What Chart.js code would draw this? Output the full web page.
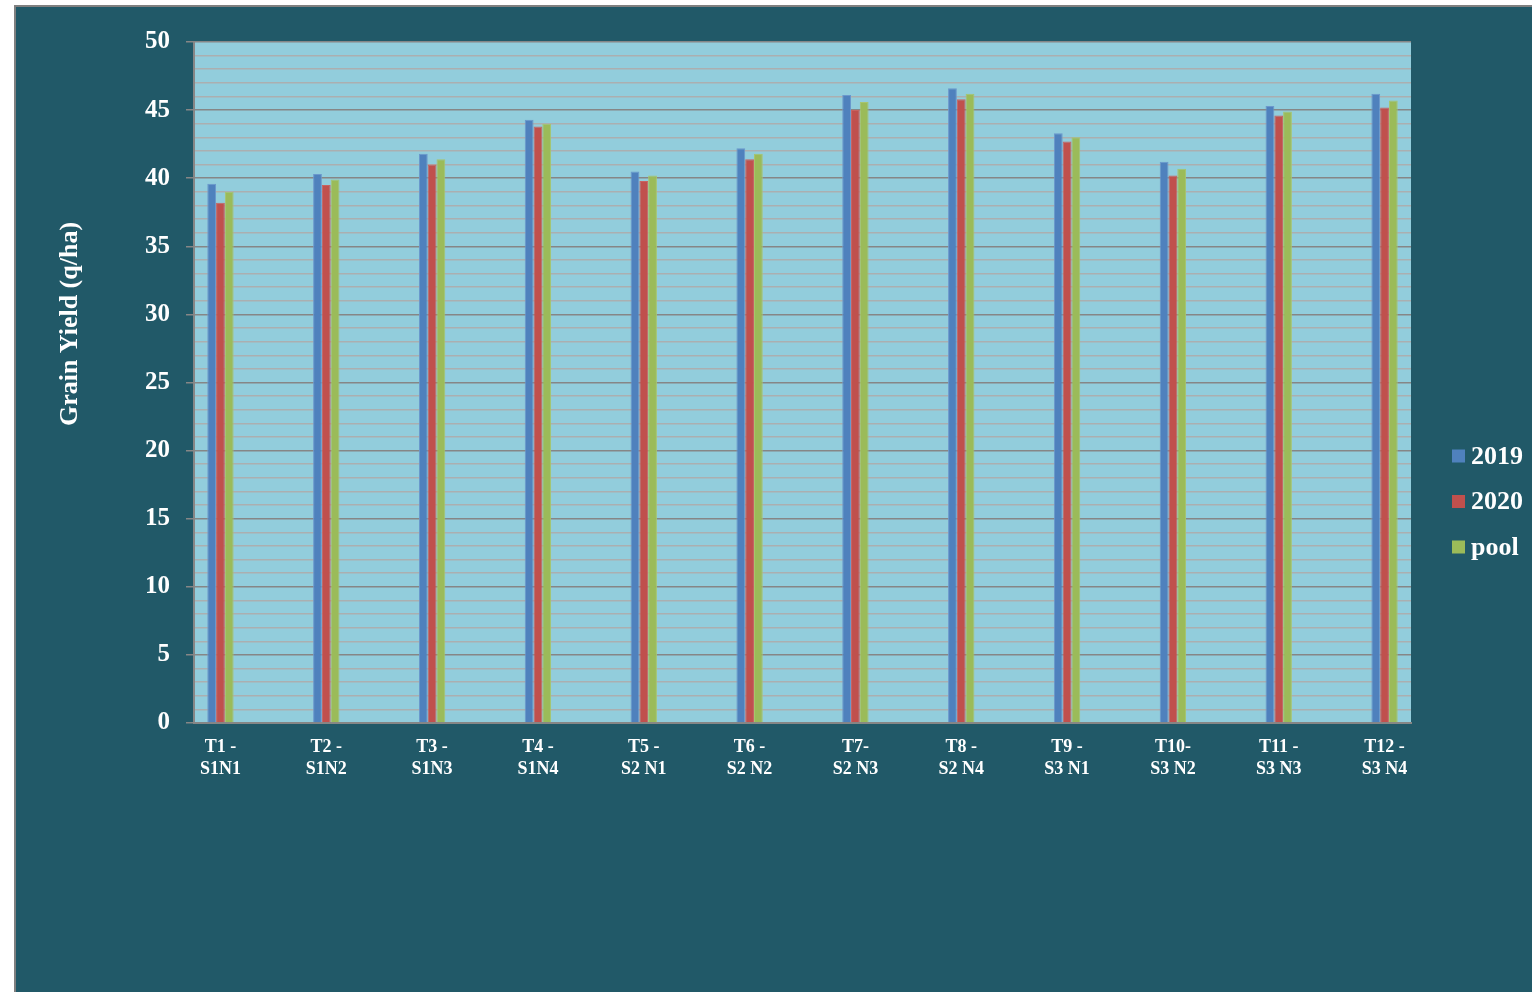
<!DOCTYPE html>
<html>
<head>
<meta charset="utf-8">
<script src="https://cdn.jsdelivr.net/npm/chart.js@4/dist/chart.umd.min.js"></script>
<style>
  html, body { margin: 0; padding: 0; background: #ffffff; overflow: hidden; }
  #frame {
    position: absolute; left: 14px; top: 5px; right: 0; bottom: 0;
    border-left: 2px solid #808080; border-top: 2px solid #808080;
    background: #215968;
  }
  #chart { display: block; }
</style>
</head>
<body>
<div id="frame"><canvas id="chart" width="1516" height="985"></canvas></div>
<script>
// Treatments (two-line tick labels)
const treatments = [
  ['T1 -', 'S1N1'], ['T2 -', 'S1N2'], ['T3 -', 'S1N3'], ['T4 -', 'S1N4'],
  ['T5 -', 'S2 N1'], ['T6 -', 'S2 N2'], ['T7-', 'S2 N3'], ['T8 -', 'S2 N4'],
  ['T9 -', 'S3 N1'], ['T10-', 'S3 N2'], ['T11 -', 'S3 N3'], ['T12 -', 'S3 N4']
];

// Grain yield (q/ha) per season and pooled
const yield2019 = [39.6, 40.3, 41.8, 44.3, 40.5, 42.2, 46.1, 46.6, 43.3, 41.2, 45.3, 46.2];
const yield2020 = [38.2, 39.5, 41.0, 43.8, 39.8, 41.4, 45.0, 45.8, 42.7, 40.2, 44.6, 45.2];
const yieldPool = [39.0, 39.9, 41.4, 44.0, 40.2, 41.8, 45.6, 46.2, 43.0, 40.7, 44.9, 45.7];

const seriesNames = ['2019', '2020', 'pool'];
const yAxisTitle = 'Grain Yield (q/ha)';

const SERIF = "'Liberation Serif', 'Times New Roman', serif";
const toPoints = arr => arr.map((v, i) => ({ x: i, y: v }));

// Plot area fill
const plotBackground = {
  id: 'plotBackground',
  beforeDraw(chart) {
    const { ctx, chartArea: a } = chart;
    ctx.save();
    ctx.fillStyle = '#92cddc';
    ctx.fillRect(a.left, a.top, a.right - a.left, a.bottom - a.top);
    ctx.restore();
  }
};

// Rotated y-axis title
const yTitle = {
  id: 'yTitle',
  afterDraw(chart) {
    const { ctx } = chart;
    ctx.save();
    ctx.translate(54, 317);
    ctx.rotate(-Math.PI / 2);
    ctx.font = 'bold 26px ' + SERIF;
    ctx.fillStyle = '#ffffff';
    ctx.textAlign = 'center';
    ctx.textBaseline = 'middle';
    ctx.fillText(yAxisTitle, 0, 0);
    ctx.restore();
  }
};

// Legend on the right with square keys
const sideLegend = {
  id: 'sideLegend',
  afterDraw(chart) {
    const { ctx } = chart;
    ctx.save();
    ctx.font = 'bold 26px ' + SERIF;
    ctx.textAlign = 'left';
    ctx.textBaseline = 'middle';
    chart.data.datasets.forEach((ds, i) => {
      const cy = 449 + i * 45.5;
      ctx.fillStyle = ds.backgroundColor;
      ctx.fillRect(1436, cy - 6.5, 13, 13);
      ctx.fillStyle = '#ffffff';
      ctx.fillText(ds.label, 1455, cy + 1);
    });
    ctx.restore();
  }
};

new Chart(document.getElementById('chart'), {
  type: 'bar',
  data: {
    datasets: [
      { label: seriesNames[0], data: toPoints(yield2019), backgroundColor: '#4f81bd', borderColor: '#6b97cc', borderWidth: 1 },
      { label: seriesNames[1], data: toPoints(yield2020), backgroundColor: '#c0504d', borderColor: '#c96260', borderWidth: 1 },
      { label: seriesNames[2], data: toPoints(yieldPool), backgroundColor: '#9bbb59', borderColor: '#a8c56d', borderWidth: 1 }
    ]
  },
  options: {
    responsive: false,
    animation: false,
    devicePixelRatio: 1,
    layout: { padding: { top: 35, right: 121, bottom: 0, left: 0 } },
    datasets: { bar: { barPercentage: 1, categoryPercentage: 0.249 } },
    plugins: { legend: { display: false }, tooltip: { enabled: false } },
    scales: {
      x: {
        type: 'linear',
        min: -0.25,
        max: treatments.length - 0.75,
        offset: false,
        afterFit(s) { s.height = 269; },
        afterBuildTicks(s) { s.ticks = treatments.map((_, i) => ({ value: i })); },
        grid: { display: true, drawOnChartArea: false, drawTicks: false, color: 'rgba(0,0,0,0)', offset: false },
        border: { display: true, color: '#868686', width: 2 },
        ticks: {
          autoSkip: false,
          maxRotation: 0,
          padding: 13,
          color: '#ffffff',
          font: { family: SERIF, size: 18, weight: 'bold', lineHeight: 22 / 18 },
          callback: v => treatments[v]
        }
      },
      y: {
        min: 0,
        max: 50,
        afterFit(s) { s.width = 178; },
        grid: {
          color: c => (c.tick && c.tick.value % 5 === 0) ? '#868686' : '#abafb0',
          tickColor: c => (c.tick && c.tick.value % 5 === 0) ? '#868686' : 'rgba(0,0,0,0)',
          lineWidth: 1.5,
          tickLength: 8
        },
        border: { display: true, color: '#868686', width: 2 },
        ticks: {
          stepSize: 1,
          autoSkip: false,
          padding: 16,
          color: '#ffffff',
          font: { family: SERIF, size: 25, weight: 'bold' },
          callback: v => (v % 5 === 0 ? String(v) : '')
        }
      }
    }
  },
  plugins: [plotBackground, yTitle, sideLegend]
});
</script>
</body>
</html>
